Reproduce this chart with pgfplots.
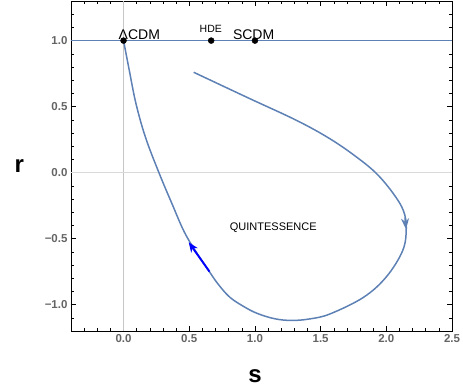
\documentclass[border=0pt]{standalone}
\usepackage{fontspec}
\setmainfont{Liberation Sans}
\usepackage{pgfplots}
\pgfplotsset{compat=1.18}
\usetikzlibrary{arrows.meta}
\definecolor{mblue}{RGB}{94,129,181}
\definecolor{tickgray}{RGB}{100,100,100}
\begin{document}
\begin{tikzpicture}
\begin{axis}[
  scale only axis,
  width=381pt, height=330pt,
  xmin=-0.4, xmax=2.5, ymin=-1.2, ymax=1.3,
  xtick={0,0.5,1,1.5,2,2.5},
  xticklabels={0.0,0.5,1.0,1.5,2.0,2.5},
  ytick={-1,-0.5,0,0.5,1},
  yticklabels={−1.0,−0.5,0.0,0.5,1.0},
  minor xtick={-0.3,-0.2,...,2.45},
  minor ytick={-1.1,-1.0,...,1.25},
  tick align=inside,
  major tick length=5pt, minor tick length=3pt,
  tick style={black, line width=0.5pt},
  tick label style={font=\fontsize{11.5}{13}\selectfont\bfseries, text=tickgray},
  axis line style={line width=0.8pt},
  xlabel={s}, ylabel={r},
  xlabel style={font=\fontsize{24}{26}\selectfont\bfseries, at={(axis description cs:0.483,-0.136)}, anchor=center},
  ylabel style={font=\fontsize{24}{26}\selectfont\bfseries, at={(axis description cs:-0.136,0.5)}, anchor=center, rotate=-90},
  clip=false,
]
% axes through the origin
\addplot[gray!45, line width=0.6pt] coordinates {(0,-1.2) (0,1.3)};
\addplot[gray!30, line width=0.8pt] coordinates {(-0.4,0) (2.5,0)};
% r = 1 line
\addplot[mblue, line width=1.5pt] coordinates {(-0.4,1) (2.5,1)};
% trajectory
\addplot[mblue, line width=1.5pt, smooth, tension=0.6] coordinates {
(0.534,0.76) (0.94,0.57) (1.32,0.394) (1.573,0.255) (1.776,0.116)
(1.928,-0.01) (2.054,-0.16) (2.13,-0.288) (2.152,-0.42) (2.125,-0.59)
(2.0,-0.79) (1.826,-0.945) (1.573,-1.07) (1.42,-1.108) (1.28,-1.12)
(1.15,-1.107) (1.016,-1.066) (0.914,-1.014) (0.81,-0.945) (0.724,-0.85)
(0.648,-0.742) (0.481,-0.485) (0.367,-0.232) (0.261,0.02) (0.165,0.273)
(0.094,0.525) (0.043,0.778) (0,1)
};
\addplot[mblue, line width=1.5pt, -{Stealth[length=11pt,width=8pt]}] coordinates {(2.142,-0.34) (2.150,-0.43)};
\addplot[blue, line width=1.9pt, -{Stealth[length=10pt,width=8pt]}] coordinates {(0.654,-0.75) (0.496,-0.528)};
% fixed points
\addplot[only marks, mark=*, black, mark size=3pt] coordinates {(0,1) (0.667,1) (1,1)};
\node[anchor=base, font=\fontsize{14}{16}\selectfont, inner sep=0pt] at (axis cs:0.12,1.01) {ΛCDM};
\node[anchor=base, font=\fontsize{10.5}{12}\selectfont, inner sep=0pt] at (axis cs:0.664,1.063) {HDE};
\node[anchor=base, font=\fontsize{14}{16}\selectfont, inner sep=0pt] at (axis cs:0.99,1.01) {SCDM};
\node[font=\fontsize{11}{13}\selectfont, inner sep=0pt] at (axis cs:1.14,-0.417) {QUINTESSENCE};
\end{axis}
\pgfresetboundingbox
\path[use as bounding box] (-71pt,-58pt) rectangle (392pt,331pt);
\end{tikzpicture}
\end{document}
